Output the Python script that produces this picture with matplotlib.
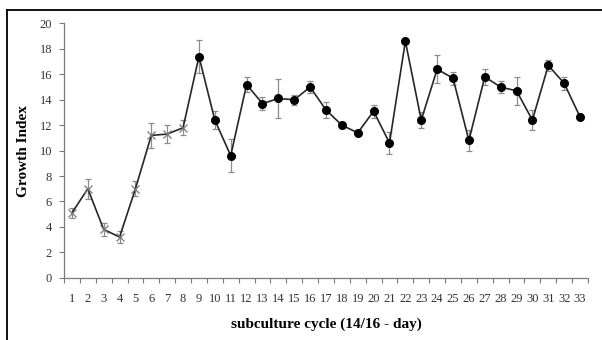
import matplotlib.pyplot as plt
from matplotlib.lines import Line2D

# subculture cycles and growth index (mean +/- error)
cycles = list(range(1, 34))
growth = [5.1, 7.0, 3.8, 3.2, 7.0, 11.2, 11.3, 11.8, 17.4, 12.4,
          9.6, 15.2, 13.7, 14.1, 14.0, 15.0, 13.2, 12.0, 11.4, 13.1,
          10.6, 18.6, 12.4, 16.4, 15.7, 10.8, 15.8, 15.0, 14.7, 12.4,
          16.7, 15.3, 12.65]
errors = [0.4, 0.8, 0.5, 0.5, 0.6, 1.0, 0.7, 0.6, 1.3, 0.7,
          1.3, 0.6, 0.5, 1.5, 0.4, 0.5, 0.6, 0.2, 0.2, 0.5,
          0.9, 0.1, 0.6, 1.1, 0.5, 0.8, 0.6, 0.5, 1.1, 0.8,
          0.4, 0.5, 0.2]
n_cross = 8  # first cycles drawn with x markers

plt.rcParams['font.family'] = ['Liberation Serif', 'DejaVu Serif']

fig = plt.figure(figsize=(6.02, 3.4), dpi=100)
ax = fig.add_axes([0.1063, 0.1832, 0.8704, 0.7477])

ax.errorbar(cycles, growth, yerr=errors, fmt='none', ecolor='#8c8c8c',
            elinewidth=0.9, capsize=2.3, capthick=0.9, zorder=2)
ax.plot(cycles, growth, color='#262626', lw=1.2, zorder=3)
ax.plot(cycles[:n_cross], growth[:n_cross], 'x', color='#7a7a7a',
        ms=5.5, mew=0.9, zorder=4)
ax.plot(cycles[n_cross:], growth[n_cross:], 'o', color='black',
        ms=5.5, zorder=4)

ax.set_xlim(0.5, 33.5)
ax.set_ylim(0, 20)
ax.set_yticks(range(0, 21, 2))
ax.set_xticks(cycles)
ax.set_xticks([c + 0.5 for c in range(0, 34)], minor=True)
ax.tick_params(axis='x', which='major', length=0, pad=11,
               labelsize=9, labelcolor='#333333')
ax.tick_params(axis='x', which='minor', length=3.5, width=0.8,
               color='#7a7a7a', direction='out')
ax.tick_params(axis='y', length=3.5, width=0.8, color='#7a7a7a',
               labelsize=9, labelcolor='#333333', pad=5)

for s in ['top', 'right']:
    ax.spines[s].set_visible(False)
for s in ['left', 'bottom']:
    ax.spines[s].set_color('#7a7a7a')
    ax.spines[s].set_linewidth(0.9)

ax.set_ylabel('Growth Index', fontsize=11, fontweight='bold', labelpad=7)
ax.set_xlabel('subculture cycle (14/16 - day)', fontsize=11,
              fontweight='bold', labelpad=9)

# outer frame (top and left edges only)
fig.add_artist(Line2D([7 / 602, 7 / 602], [0, 1 - 10 / 340],
                      transform=fig.transFigure, color='black', lw=1.3))
fig.add_artist(Line2D([7 / 602, 1], [1 - 10 / 340, 1 - 10 / 340],
                      transform=fig.transFigure, color='black', lw=1.3))

fig.savefig('out.png', dpi=100)
